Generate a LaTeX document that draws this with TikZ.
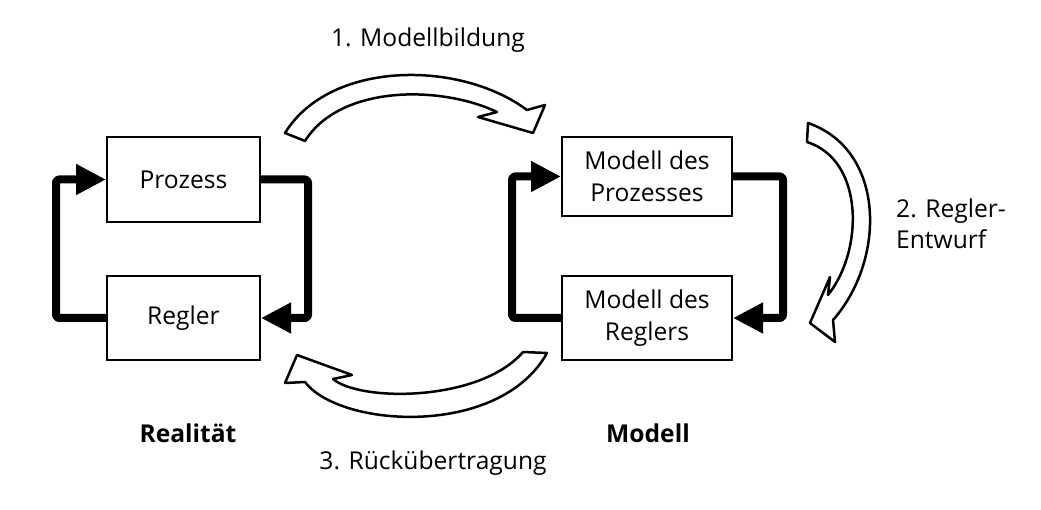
\documentclass[tikz,border=0pt]{standalone}
\usepackage{fontspec}
\setmainfont{Open Sans}
\usetikzlibrary{arrows.meta}
\tikzset{
  box/.style={draw, line width=2pt, minimum width=153pt, inner sep=0pt, align=center,
    font=\fontsize{24.6}{32}\selectfont},
  fb/.style={line width=8pt, rounded corners=3pt, line join=round,
    -{Triangle[length=30pt,width=29pt]}},
  bigarrow/.style={draw, line width=2.5pt, fill=white, line join=round},
  lbl/.style={inner sep=0pt, font=\fontsize{24.6}{31}\selectfont},
  title/.style={inner sep=0pt, font=\fontsize{24.6}{31}\selectfont\bfseries}
}
\begin{document}
\begin{tikzpicture}[x=1pt,y=-1pt]
\useasboundingbox (0,0) rectangle (1041,510);
% left loop
\node[box, minimum height=85pt] (proz) at (183.5,179.5) {Prozess};
\node[box, minimum height=84pt] (regl) at (183.5,318) {Regler};
\draw[fb] (proz.east) -| ++(47,70) |- (regl.east);
\draw[fb] (regl.west) -| ++(-50,-70) |- (proz.west);
% right loop
\node[box, minimum width=170pt, minimum height=79pt] (mproz) at (647,176.5) {Modell des\\Prozesses};
\node[box, minimum width=170pt, minimum height=84pt] (mregl) at (647,318) {Modell des\\Reglers};
\draw[fb] (mproz.east) -| ++(50,70) |- (mregl.east);
\draw[fb] (mregl.west) -| ++(-49,-70) |- (mproz.west);
% curved arrows
\path[bigarrow] (285,133) .. controls (330,60) and (460,60) .. (527,110)
  -- (545,105) -- (533,133) -- (478,117) -- (497,112)
  .. controls (440,85) and (340,85) .. (305,141) -- cycle;
\path[bigarrow] (808,123) .. controls (886,150) and (886,260) .. (833,320)
  -- (835,342) -- (810,323) -- (830,277) -- (828,295)
  .. controls (864,250) and (864,160) .. (807,142) -- cycle;
\path[bigarrow] (547,353) .. controls (500,438) and (340,428) .. (305,382)
  -- (285,383) -- (297,355) -- (352,375) -- (333,379)
  .. controls (360,402) and (480,402) .. (523,352) -- cycle;
% labels
\node[lbl] (l1) at (428,40) {1. Modellbildung};
\node[lbl, anchor=west, align=left] (l2) at (896,224) {2. Regler-\\Entwurf};
\node[lbl] (l3) at (433,463) {3. Rückübertragung};
\node[title] (real) at (188,433) {Realität};
\node[title] (mod) at (648,433) {Modell};
\end{tikzpicture}
\end{document}
